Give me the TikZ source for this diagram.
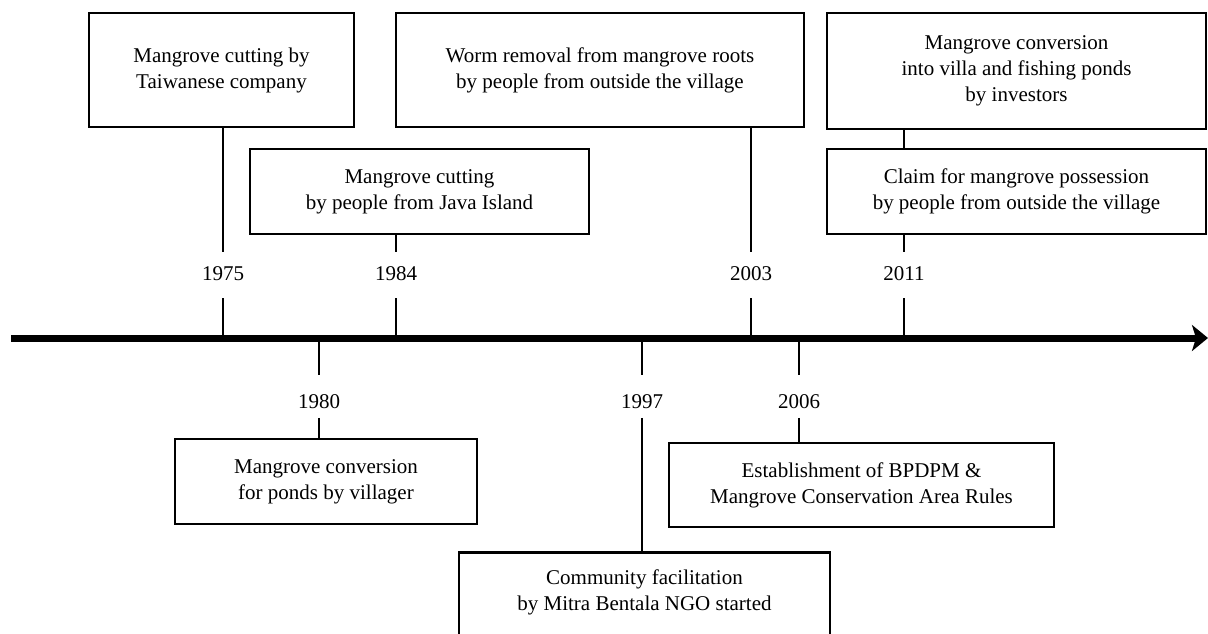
\documentclass[tikz,border=0pt]{standalone}
\usepackage{fontspec}
\setmainfont{Liberation Serif}
\usetikzlibrary{arrows.meta}

\begin{document}
\begin{tikzpicture}[x=1pt,y=-1pt,
    event/.style={draw,line width=2.8pt,align=center,inner sep=0pt,font=\fontsize{21}{26}\selectfont},
    year/.style={inner sep=0pt,font=\fontsize{21}{26}\selectfont},
    link/.style={line width=2.6pt}]
      \useasboundingbox (0,0) rectangle (1208,633);
      \clip (0,0) rectangle (1208,633);

      % events above the time line
      \node[event,minimum width=265,minimum height=114] (b1975) at (221.5,70) {Mangrove cutting by\\Taiwanese company};
      \node[event,minimum width=339,minimum height=85] (b1984) at (419.5,191.5) {Mangrove cutting\\by people from Java Island};
      \node[event,minimum width=408,minimum height=114] (b2003) at (600,70) {Worm removal from mangrove roots\\by people from outside the village};
      \node[event,minimum width=379,minimum height=116] (b2011a) at (1016.5,71) {Mangrove conversion\\into villa and fishing ponds\\by investors};
      \node[event,minimum width=379,minimum height=85] (b2011b) at (1016.5,191.5) {Claim for mangrove possession\\by people from outside the village};

      % events below the time line
      \node[event,minimum width=302,minimum height=85] (b1980) at (326,481.5) {Mangrove conversion\\for ponds by villager};
      \node[event,anchor=north,minimum width=371,inner ysep=17pt,text depth=80pt] (b1997) at (644.5,551) {Community facilitation\\by Mitra Bentala NGO started};
      \node[event,minimum width=385,minimum height=84] (b2006) at (861.5,485) {Establishment of BPDPM \&\\Mangrove Conservation Area Rules};

      % years
      \node[year] (y1975) at (223,274) {1975};
      \node[year] (y1984) at (396,274) {1984};
      \node[year] (y2003) at (751,274) {2003};
      \node[year] (y2011) at (904,274) {2011};
      \node[year] (y1980) at (319,401.5) {1980};
      \node[year] (y1997) at (642,401.5) {1997};
      \node[year] (y2006) at (799,401.5) {2006};

      % time line
      \coordinate (a0) at (11,338);
      \coordinate (a1) at (1208,338);
      \draw[line width=7pt,-{Stealth[length=16pt,width=26pt,inset=4pt]}] (a0) -- (a1);

      \foreach \yr/\bx in {1975/b1975,1984/b1984,2003/b2003,2011/b2011b} {
        \draw[link,shorten >=15pt] (y\yr.north |- \bx.south) -- (y\yr.north);
        \draw[link,shorten <=17pt] (y\yr.south) -- (y\yr.south |- a0);
      }
      \draw[link] (y2011.north |- b2011a.south) -- (y2011.north |- b2011b.north);
      \foreach \yr in {1980,1997,2006} {
        \draw[link,shorten >=19pt] (y\yr.north |- a0) -- (y\yr.north);
        \draw[link,shorten <=9pt] (y\yr.south) -- (y\yr.south |- b\yr.north);
      }
    \end{tikzpicture}
\end{document}
